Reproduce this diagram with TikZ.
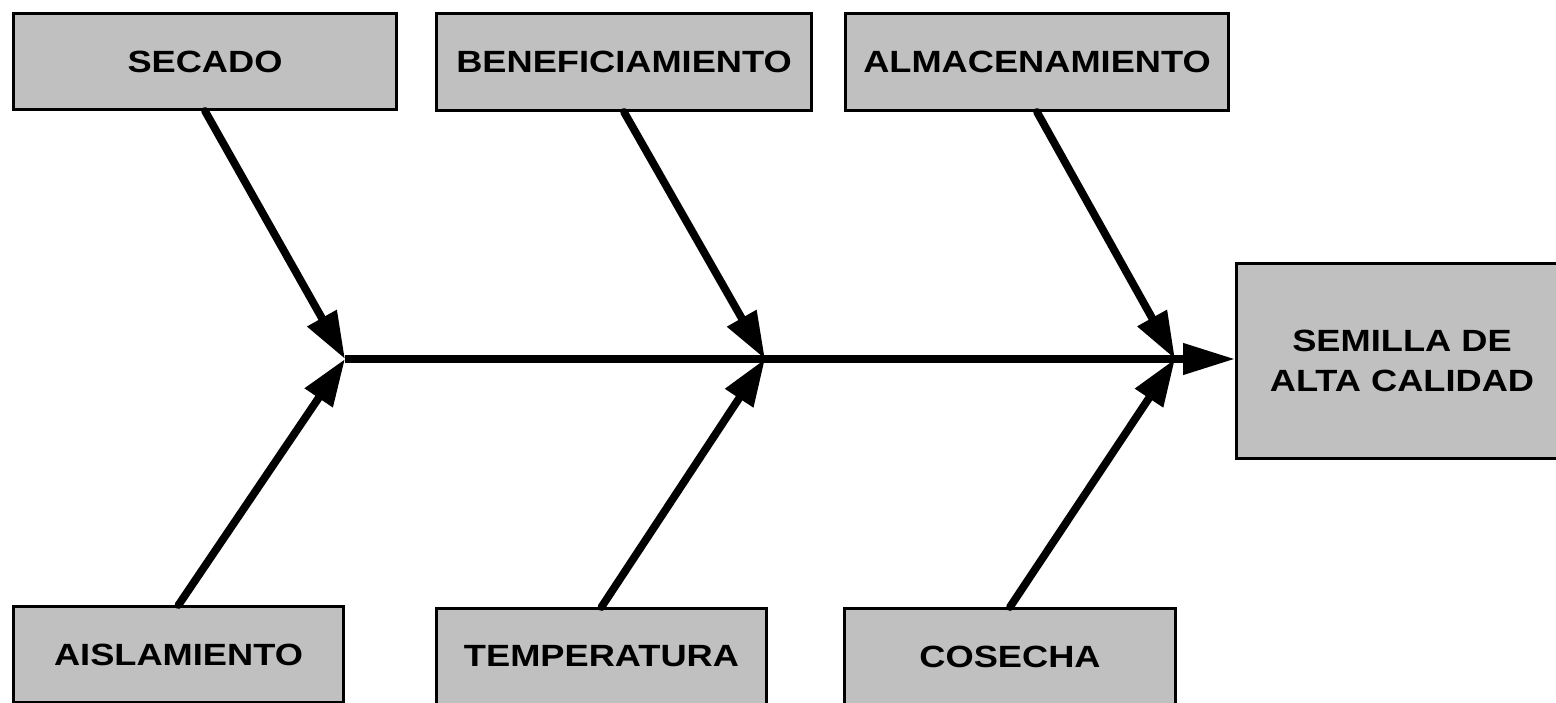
\documentclass[tikz,border=0pt]{standalone}
\usepackage{fontspec}
\setmainfont{Liberation Sans}
\usetikzlibrary{arrows.meta}
\definecolor{boxgray}{HTML}{C0C0C0}
\newcommand{\sx}[1]{\scalebox{1.18}[1]{#1}}
\begin{document}
\begin{tikzpicture}[x=1pt,y=-1pt,
  cbox/.style={draw=black, line width=3pt, fill=boxgray, inner sep=0pt,
    font=\fontsize{30.7}{40}\selectfont\bfseries, align=center},
  bone/.style={line width=7.8pt, line cap=round, -{Triangle[length=47pt,width=32pt]}},
  spine/.style={line width=7.5pt, -{Triangle[length=52pt,width=30pt]}}]
\useasboundingbox (0,0) rectangle (1556,703);
% top boxes
\node[cbox, minimum width=383pt, minimum height=96pt] (secado) at (205,61.5) {\sx{SECADO}};
\node[cbox, minimum width=375pt, minimum height=97pt] (benef) at (624,62) {\sx{BENEFICIAMIENTO}};
\node[cbox, minimum width=383pt, minimum height=97pt] (almac) at (1037,62) {\sx{ALMACENAMIENTO}};
% bottom boxes
\node[cbox, minimum width=330pt, minimum height=96pt] (aisl) at (178.5,654.5) {\sx{AISLAMIENTO}};
\node[cbox, minimum width=330pt, minimum height=96pt] (temp) at (601.5,656.5) {\sx{TEMPERATURA}};
\node[cbox, minimum width=331pt, minimum height=96pt] (cose) at (1010,656.5) {\sx{COSECHA}};
% effect box
\node[cbox, minimum width=331pt, minimum height=195pt] (semilla) at (1402,361) {\sx{SEMILLA DE}\\\sx{ALTA CALIDAD}};
% junctions
\coordinate (j1) at (345,359);
\coordinate (j2) at (765,359);
\coordinate (j3) at (1175,359);
% spine
\draw[spine] (j1) -- (semilla.west |- j1);
% bones
\draw[bone] (secado.south) -- (j1);
\draw[bone] (benef.south) -- (j2);
\draw[bone] (almac.south) -- (j3);
\draw[bone] (aisl.north) -- (j1);
\draw[bone] (temp.north) -- (j2);
\draw[bone] (cose.north) -- (j3);
\end{tikzpicture}
\end{document}
